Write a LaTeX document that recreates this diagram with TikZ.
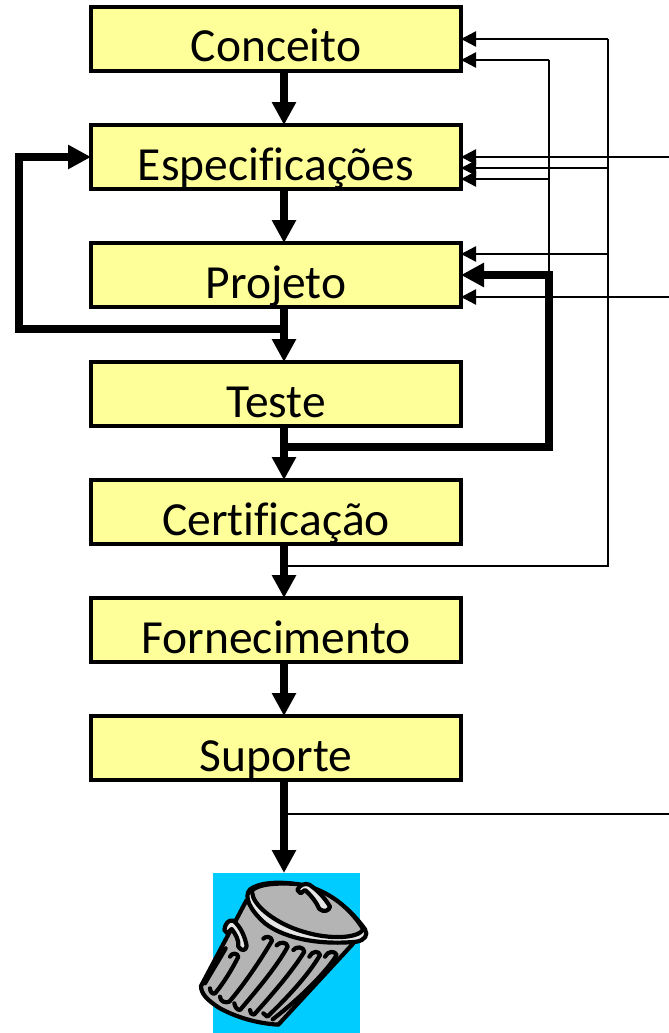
\documentclass[tikz,border=0pt]{standalone}
\usepackage{fontspec}
\setmainfont{Carlito}[Ligatures={NoCommon,NoRequired}]
\usetikzlibrary{arrows.meta,positioning}
\definecolor{boxfill}{HTML}{FFFF99}
\definecolor{bincyan}{HTML}{00CCFF}
\definecolor{bingrey}{HTML}{B4B4B4}
\definecolor{binlight}{HTML}{E6E6E6}
\tikzset{
  stage/.style={draw=black,fill=boxfill,line width=3.5pt,outer sep=0pt,minimum width=370pt,minimum height=64pt,inner sep=0pt,
    text height=55pt,text depth=9pt,font=\fontsize{47.5}{47.5}\selectfont},
  thick link/.style={line width=7.5pt,-{Triangle[width=23pt,length=23pt]}},
  thin link/.style={line width=2.4pt,-{Triangle[width=15pt,length=15pt]}},
  thin run/.style={line width=2.4pt},
  binline/.style={draw=black,line width=4.2pt,line join=round,line cap=round},
}
\begin{document}
\begin{tikzpicture}[x=1pt,y=-1pt]
\useasboundingbox (0,0) rectangle (669,1033);
\fill[white] (0,0) rectangle (669,1033);
\node[stage] (con) at (276,39) {Conceito};
\node[stage] (esp) at (276,157) {Especificações};
\node[stage] (pro) at (276,275) {Projeto};
\node[stage] (tes) at (276,394) {Teste};
\node[stage] (cer) at (276,512) {Certificação};
\node[stage] (for) at (276,630) {Fornecimento};
\node[stage] (sup) at (276,748) {Suporte};
\node[fill=bincyan,minimum width=147pt,minimum height=160pt,inner sep=0pt,outer sep=0pt] (bin) at (286.5,953) {};
% free ends and corners
\coordinate (espr) at (669,157);
\coordinate (pror) at (669,297);
\coordinate (supr) at (669,814);
\coordinate (supb) at (284,814);
\coordinate (cerb) at (284,566);
\coordinate (tesb) at (284,447);
\coordinate (prob) at (284,329);
\coordinate (outl) at (19,329);
\coordinate (outlu) at (19,157);
\coordinate (c1) at (608,566);
\coordinate (c2) at (549,447);
\coordinate (c2u) at (549,275);
% thin feedback
\draw[thin run] (cerb) -- (c1) -- (608,39);
\draw[thin link] (608,39) -- (con.east |- 0,39);
\draw[thin link] (549,60) -- (con.east |- 0,60);
\draw[thin run] (549,60) -- (c2u);
\draw[thin link] (espr) -- (esp.east |- espr);
\draw[thin link] (608,168) -- (esp.east |- 0,168);
\draw[thin link] (549,179) -- (esp.east |- 0,179);
\draw[thin link] (608,254) -- (pro.east |- 0,254);
\draw[thin link] (pror) -- (pro.east |- pror);
\draw[thin run] (supb) -- (supr);
% thick flow
\draw[thick link] ([xshift=8pt]con.south) -- ([xshift=8pt]esp.north);
\draw[thick link] ([xshift=8pt]esp.south) -- ([xshift=8pt]pro.north);
\draw[thick link] ([xshift=8pt]pro.south) -- ([xshift=8pt]tes.north);
\draw[thick link] ([xshift=8pt]tes.south) -- ([xshift=8pt]cer.north);
\draw[thick link] ([xshift=8pt]cer.south) -- ([xshift=8pt]for.north);
\draw[thick link] ([xshift=8pt]for.south) -- ([xshift=8pt]sup.north);
\draw[thick link] ([xshift=8pt]sup.south) -- (bin.north -| supb);
\draw[thick link] (prob) -- (outl) -- (outlu) -- (esp.west);
\draw[thick link] (tesb) -- (c2) -- (c2u) -- (pro.east);
% bin
\begin{scope}[shift={(190,860)},scale=1/3]
\path[binline,fill=bingrey] (170,120) -- (33,378) .. controls (33,400) and (50,420) .. (90,445)
  .. controls (140,472) and (200,490) .. (265,494) -- (490,250) -- cycle;
% rim
\path[binline,fill=binlight] (180,88) .. controls (160,110) and (180,150) .. (225,190)
  .. controls (290,240) and (400,255) .. (500,245) .. controls (525,240) and (535,225) .. (525,208)
  .. controls (470,130) and (390,80) .. (300,70) .. controls (250,65) and (205,70) .. cycle;
% lid
\path[binline,fill=bingrey] (185,92) .. controls (205,72) and (260,68) .. (320,72)
  .. controls (400,82) and (475,135) .. (520,208) .. controls (505,235) and (420,240) .. (340,215)
  .. controls (270,195) and (205,150) .. (190,112) -- cycle;
% lid handle
\path[binline,fill=binlight] (322,90) .. controls (328,75) and (345,68) .. (358,74) .. controls (385,92) and (405,115) .. (420,140)
  .. controls (418,152) and (402,158) .. (388,147) .. controls (380,128) and (365,108) .. (345,90) -- (332,100) -- cycle;
% side handle
\path[binline,fill=binlight] (103,210) .. controls (105,192) and (115,178) .. (130,182) .. controls (152,200) and (165,230) .. (170,258)
  .. controls (168,272) and (155,275) .. (145,260) .. controls (148,240) and (135,220) .. (125,207) -- (112,220) -- cycle;
% ribs
\path[binline,fill=none] (220,236) .. controls (225,228) and (245,228) .. (246,242) .. controls (215,295) and (165,370) .. (118,425) .. controls (108,430) and (90,425) .. (90,410);
\path[binline,fill=none] (260,256) .. controls (268,245) and (292,245) .. (293,260) .. controls (260,320) and (205,385) .. (150,450) .. controls (142,450) and (135,442) .. (133,430);
\path[binline,fill=none] (310,270) .. controls (318,258) and (342,260) .. (343,275) .. controls (310,330) and (245,405) .. (192,464) .. controls (185,465) and (180,458) .. (180,450);
\path[binline,fill=none] (358,290) .. controls (366,272) and (388,272) .. (390,285) .. controls (355,345) and (290,415) .. (232,470) -- (220,460);
\path[binline,fill=none] (405,290) .. controls (413,272) and (436,272) .. (440,285) .. controls (410,335) and (330,415) .. (248,478);
\path[binline,fill=none] (120,290) .. controls (125,278) and (142,278) .. (145,290) .. controls (125,330) and (100,370) .. (75,400) .. controls (68,404) and (60,395) .. (60,385);
\path[binline,fill=none] (107,265) .. controls (90,295) and (65,335) .. (45,370);
\end{scope}
\end{tikzpicture}
\end{document}
